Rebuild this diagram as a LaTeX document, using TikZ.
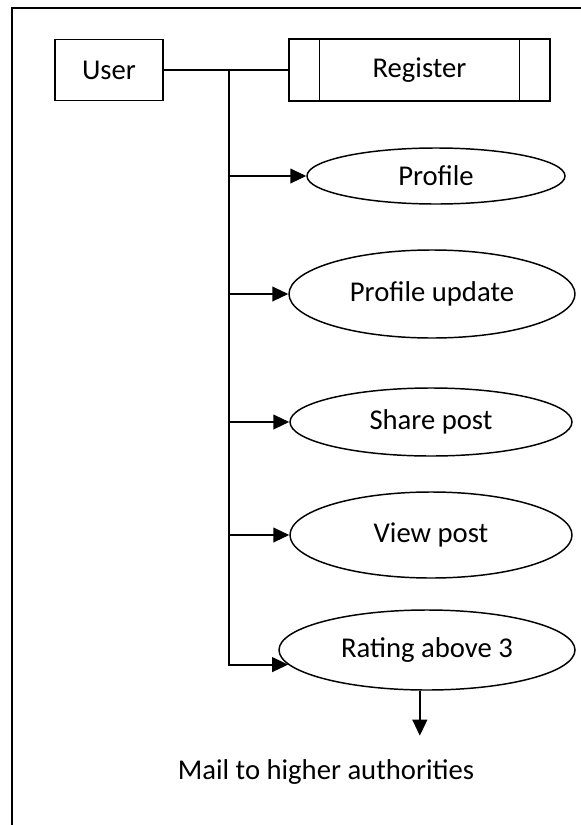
\documentclass[tikz,border=0pt]{standalone}
\usepackage{fontspec}
\setmainfont{Carlito}
\usetikzlibrary{arrows.meta,calc,shapes.geometric}
\tikzset{actorbox/.style={draw,line width=1.1pt,minimum width=81pt,minimum height=45.5pt,inner sep=0pt},procbox/.style={draw,line width=1.1pt,minimum width=195.75pt,minimum height=46.5pt,inner sep=0pt},barline/.style={draw,line width=1.1pt},usecase/.style={draw,ellipse,line width=1.1pt,inner sep=0pt},flowline/.style={draw,line width=1.5pt},flowarrow/.style={draw,line width=1.5pt,-{Triangle[length=12pt,width=11pt]}},frameline/.style={draw,line width=1.5pt},figlabel/.style={inner sep=1pt}}

\begin{document}
\begin{tikzpicture}[x=.75pt,y=-.75pt,font=\fontsize{21.5}{26}\selectfont]
\useasboundingbox (0,0) rectangle (581,825);
\draw[frameline] (581,8)--(12,8)--(12,825);
\node[actorbox] (user) at (109,70) {User};
\node[procbox] (reg) at (419.5,70) {Register};
\draw[barline] ($(reg.north west)+(31,0)$)--($(reg.south west)+(31,0)$);
\draw[barline] ($(reg.north east)+(-31,0)$)--($(reg.south east)+(-31,0)$);
\draw[flowline] (user.east)--(reg.west);
\coordinate (hub) at (229,70);
\foreach \nm/\x/\y/\w/\h/\lab in {prof/436/176/258/56/{Profile},upd/432/294/286/88/{Profile update},share/431/422/282/68/{Share post},view/431/535/282/86/{View post},rate/427/650/296/80/{Rating above 3}} {
  \node[usecase,minimum width=\w*.75pt,minimum height=\h*.75pt] (\nm) at (\x,\y) {\lab};}
\foreach \nm in {prof,upd,share,view} {
  \draw[flowarrow] (hub |- \nm.west)--(\nm.west);}
\draw[flowarrow] (hub)--(hub |- rate.186)--(rate.186);
\coordinate (drop) at ($(rate.260)+(0,45)$);
\draw[flowarrow] (rate.260)--(drop);
\node[figlabel] (mail) at (326,772) {Mail to higher authorities};
\end{tikzpicture}
\end{document}
